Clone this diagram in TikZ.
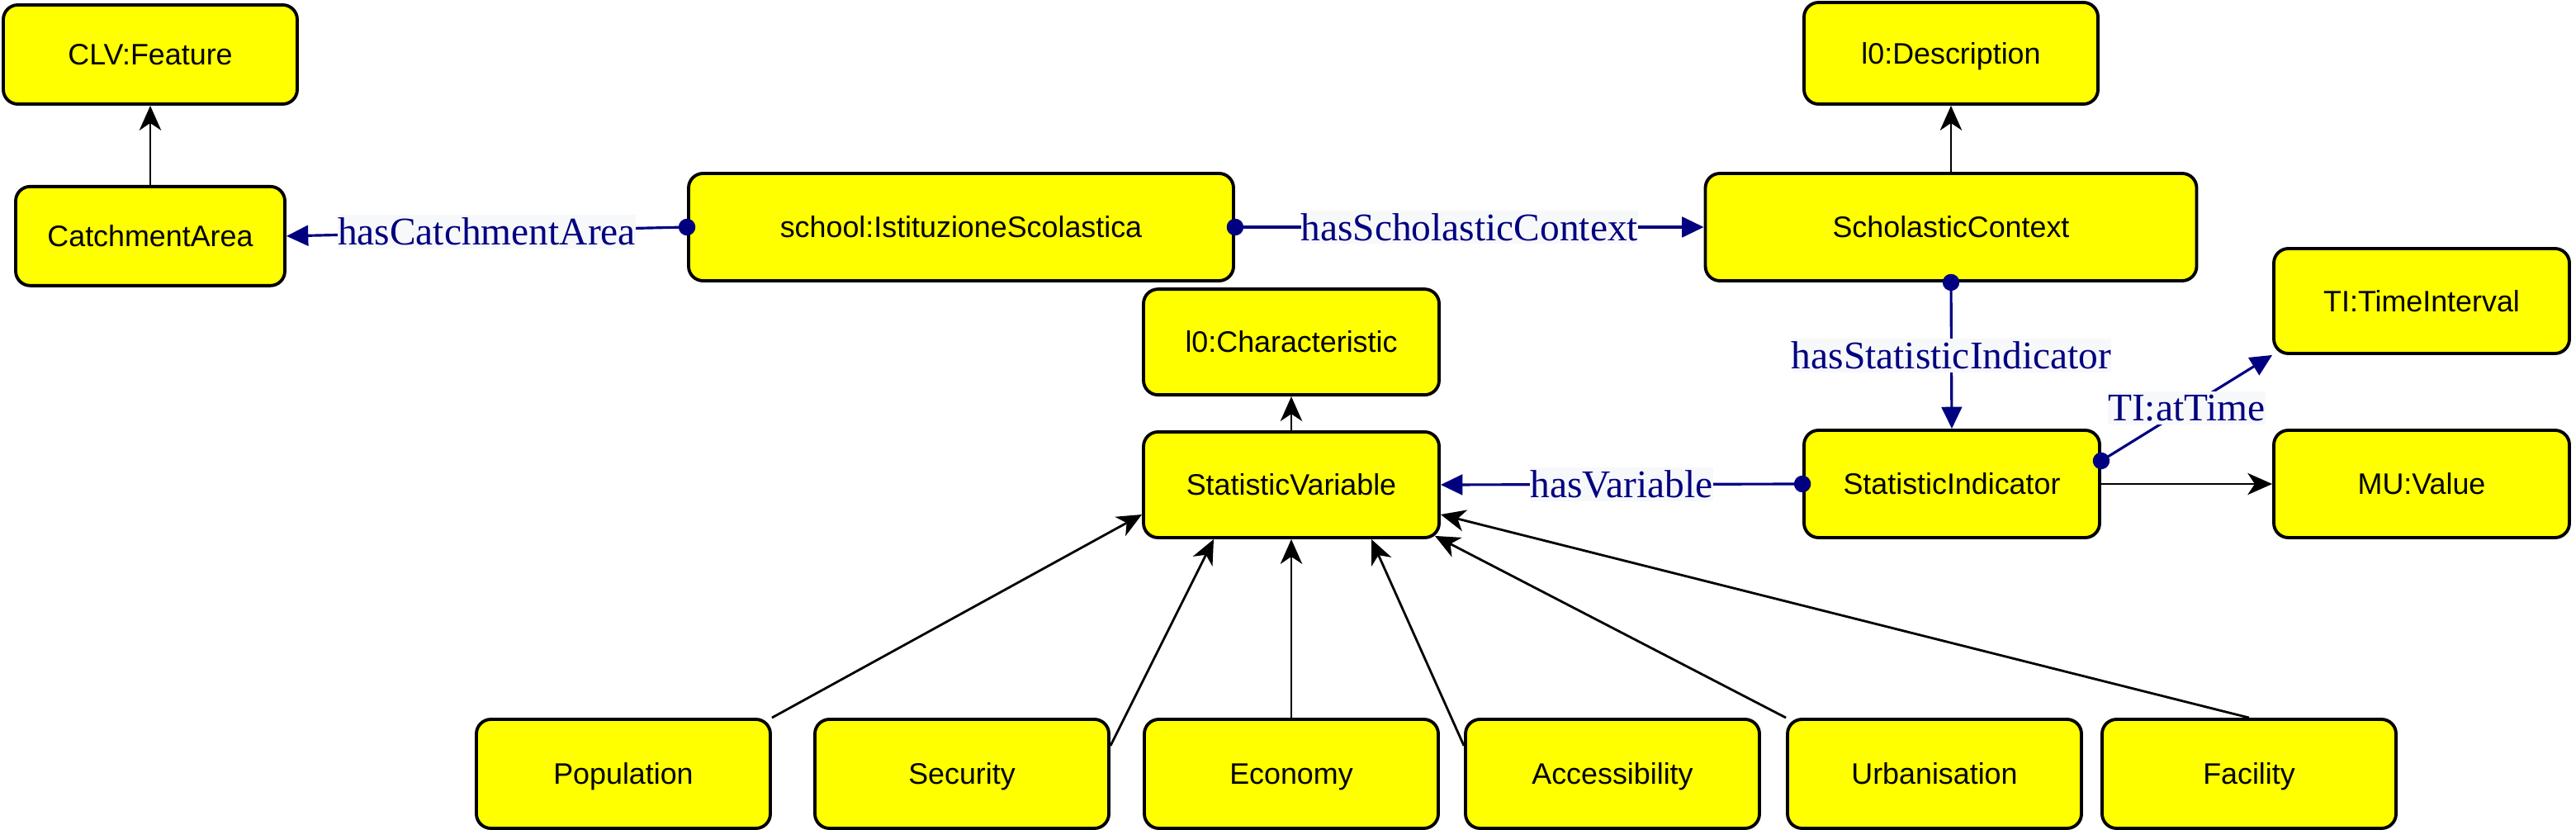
\documentclass[tikz,border=0pt]{standalone}
\usepackage{fontspec}
\setmainfont{Liberation Sans}
\newfontfamily\lblfont{Liberation Serif}
\usetikzlibrary{positioning, arrows.meta, calc}
\definecolor{propblue}{RGB}{0,0,128}
\definecolor{lblbg}{RGB}{247,248,250}
\definecolor{clsfill}{RGB}{255,255,0}

\begin{document}
\begin{tikzpicture}[
    cls/.style={
        rectangle,
        draw=black,
        line width=1.1pt,
        fill=clsfill,
        minimum width=3.56cm,
        minimum height=1.28cm,
        rounded corners=5pt,
        text height=7.3pt, text depth=0pt,
        font=\fontsize{10.2}{12}\selectfont
    },
    sub/.style={-{Stealth[length=8.5pt, width=7.5pt, inset=2.5pt]}, line width=0.8pt},
    prop/.style={{Circle[length=5.8pt]}-{Triangle[length=7.5pt, width=7pt]}, shorten <=-2.9pt, draw=propblue, line width=0.9pt},
    plabel/.style={font=\lblfont\fontsize{13.5}{15}\selectfont, text=propblue, fill=lblbg, inner xsep=0pt, inner ysep=1pt}
]

\useasboundingbox (0,0) rectangle (31.2,-10.05);

% Upper classes
\node[cls, minimum height=1.2cm] (feature) at (1.82,-0.66) {CLV:Feature};
\node[cls, minimum width=3.26cm, minimum height=1.2cm, below=0.96cm of feature] (catch) {CatchmentArea};
\node[cls, minimum width=6.6cm, minimum height=1.3cm] (school) at (11.64,-2.75) {school:IstituzioneScolastica};
\node[cls, minimum width=5.95cm, minimum height=1.3cm] (context) at (23.63,-2.75) {ScholasticContext};
\node[cls, minimum height=1.23cm] (desc) at (23.63,-0.645) {l0:Description};

% Variables and indicators
\node[cls, minimum width=3.58cm] (statvar) at (15.64,-5.87) {StatisticVariable};
\node[cls, minimum width=3.58cm, above=0.41cm of statvar] (charac) {l0:Characteristic};
\node[cls, minimum width=3.58cm, minimum height=1.3cm] (statind) at (23.64,-5.86) {StatisticIndicator};
\node[cls, minimum width=3.58cm, minimum height=1.3cm] (value) at (29.33,-5.86) {MU:Value};
\node[cls, minimum width=3.58cm, minimum height=1.27cm] (interval) at (29.33,-3.645) {TI:TimeInterval};

% Kinds of variable
\node[cls, minimum height=1.32cm] (popul) at (7.55,-9.37) {Population};
\node[cls, minimum height=1.32cm] (secur) at (11.65,-9.37) {Security};
\node[cls, minimum height=1.32cm] (econ) at (15.64,-9.37) {Economy};
\node[cls, minimum height=1.32cm] (access) at (19.53,-9.37) {Accessibility};
\node[cls, minimum height=1.32cm] (urban) at (23.43,-9.37) {Urbanisation};
\node[cls, minimum height=1.32cm] (facil) at (27.24,-9.37) {Facility};

% Subclass links
\draw[sub] (catch) -- (feature);
\draw[sub] (context) -- (desc);
\draw[sub] (statvar) -- (charac);
\draw[sub] (statind) -- (value);
\draw[sub] (popul.north east) -- ([yshift=-3.6mm]statvar.west);
\draw[sub] ([yshift=3.4mm]secur.east) -- ([xshift=-9.4mm]statvar.south);
\draw[sub] (econ) -- (statvar);
\draw[sub] ([yshift=3.4mm]access.west) -- ([xshift=9.7mm]statvar.south);
\draw[sub] (urban.north west) -- ([shift={(-0.7mm,0.4mm)}]statvar.south east);
\draw[sub] (facil.north) -- ([yshift=-3.6mm]statvar.east);

% Properties
\draw[prop] (school.west) -- (catch.east) node[midway, plabel] {hasCatchmentArea};
\draw[prop] (school.east) -- (context.west) node[midway, plabel] {hasScholasticContext};
\draw[prop] (context.south) -- (statind.north) node[midway, plabel] {hasStatisticIndicator};
\draw[prop] (statind.west) -- (statvar.east) node[midway, plabel] {hasVariable};
\draw[prop] ([yshift=2.8mm]statind.east) -- (interval.south west) node[midway, plabel] {TI:atTime};

\end{tikzpicture}
\end{document}
